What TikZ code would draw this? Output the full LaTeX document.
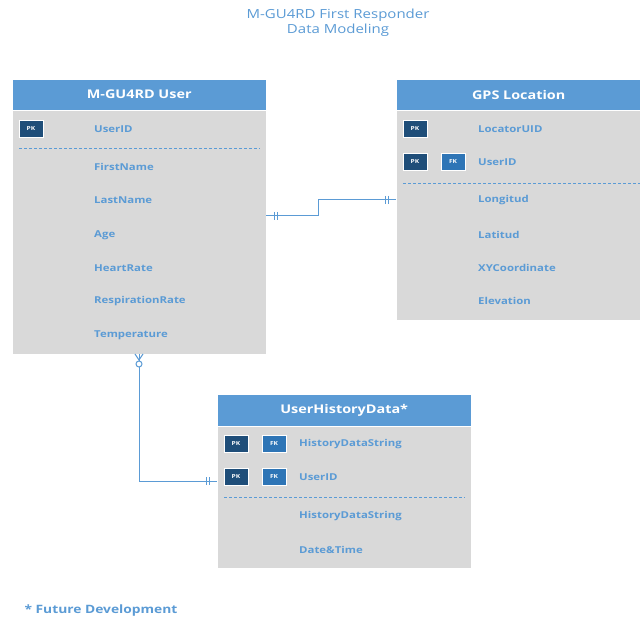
\documentclass[tikz,border=0pt]{standalone}
\usepackage{fontspec}
\setmainfont{Open Sans}[FakeStretch=1.2]
\usetikzlibrary{positioning, calc}
\definecolor{headerblue}{RGB}{91,155,213}
\definecolor{bodygray}{RGB}{217,217,217}
\definecolor{fieldblue}{RGB}{91,155,213}
\definecolor{pkdark}{RGB}{31,78,121}
\definecolor{fkblue}{RGB}{46,117,182}
\tikzset{
    headbox/.style={rectangle, fill=headerblue, draw=white, anchor=north west, minimum width=254pt, minimum height=31pt, inner sep=0pt, text=white, font=\fontsize{12}{14}\selectfont\bfseries},
    bodybox/.style={rectangle, fill=bodygray, draw=white, anchor=north west, minimum width=254pt, inner sep=0pt},
    field/.style={anchor=west, inner sep=0pt, text=fieldblue, font=\fontsize{9.5}{11}\selectfont\bfseries},
    pkbox/.style={rectangle, fill=pkdark, draw=white, line width=1pt, minimum width=24pt, minimum height=17pt, inner sep=0pt, text=white, font=\fontsize{5.5}{6}\selectfont\bfseries},
    fkbox/.style={pkbox, fill=fkblue},
    sepline/.style={fieldblue, densely dashed, line width=0.5pt},
    relline/.style={headerblue, line width=1pt},
}
\begin{document}
\begin{tikzpicture}[x=1pt, y=-1pt]
\useasboundingbox (0,0) rectangle (640,617);
\fill[white] (0,0) rectangle (640,617);

\node[align=center, text=headerblue, font=\fontsize{12.5}{15}\selectfont] (title) at (338,23) {M-GU4RD First Responder\\Data Modeling};

% M-GU4RD User
\node[headbox] (userhead) at (12,79) {M-GU4RD User};
\node[bodybox, minimum height=244pt] (userbody) at (12,110) {};
\node[pkbox] (userpk) at (31,129) {PK};
\node[field] (useruid) at (94,129) {UserID};
\draw[sepline] (19,148) -- (260,148);
\node[field] (firstname) at (94,167) {FirstName};
\node[field] (lastname) at (94,200) {LastName};
\node[field] (age) at (94,235) {Age};
\node[field] (heartrate) at (94,268) {HeartRate};
\node[field] (resprate) at (94,301) {RespirationRate};
\node[field] (temp) at (94,335) {Temperature};

% GPS Location
\node[headbox, minimum width=245pt] (gpshead) at (396,79) {GPS Location};
\node[bodybox, minimum width=245pt, minimum height=210pt] (gpsbody) at (396,110) {};
\node[pkbox] (gpspk1) at (415,129) {PK};
\node[field] (locuid) at (478,129) {LocatorUID};
\node[pkbox] (gpspk2) at (415,162) {PK};
\node[fkbox] (gpsfk) at (453,162) {FK};
\node[field] (gpsuid) at (478,162) {UserID};
\draw[sepline] (403,183) -- (640,183);
\node[field] (longitud) at (478,200) {Longitud};
\node[field] (latitud) at (478,235) {Latitud};
\node[field] (xycoord) at (478,268) {XYCoordinate};
\node[field] (elev) at (478,301) {Elevation};

% UserHistoryData
\node[headbox, minimum height=32pt] (histhead) at (217,394) {UserHistoryData*};
\node[bodybox, minimum height=142pt] (histbody) at (217,426) {};
\node[pkbox] (histpk1) at (236,444) {PK};
\node[fkbox] (histfk1) at (274,444) {FK};
\node[field] (histstr1) at (299,444) {HistoryDataString};
\node[pkbox] (histpk2) at (236,477) {PK};
\node[fkbox] (histfk2) at (274,477) {FK};
\node[field] (histuid) at (299,477) {UserID};
\draw[sepline] (224,497) -- (465,497);
\node[field] (histstr2) at (299,516) {HistoryDataString};
\node[field] (datetime) at (299,550) {Date\&Time};

\node[anchor=west, text=headerblue, font=\fontsize{11.5}{13}\selectfont\bfseries] (footnote) at (21,611) {* Future Development};

% user -- gps (one to one)
\draw[relline] (userbody.east |- 0,216) -| (318,200) -- (gpsbody.west |- 0,200);
\draw[relline] (274,212) -- (274,220) (277,212) -- (277,220);
\draw[relline] (385,196) -- (385,204) (388,196) -- (388,204);

% user -- history (zero or many to one)
\draw[relline] (userbody.south -| 139,0) -- (139,481) -- (histbody.west |- 0,481);
\draw[relline] (135,354) -- (139,360) -- (143,354);
\draw[relline, fill=white] (139,364) circle (3);
\draw[relline] (206,477) -- (206,485) (209,477) -- (209,485);
\end{tikzpicture}
\end{document}
